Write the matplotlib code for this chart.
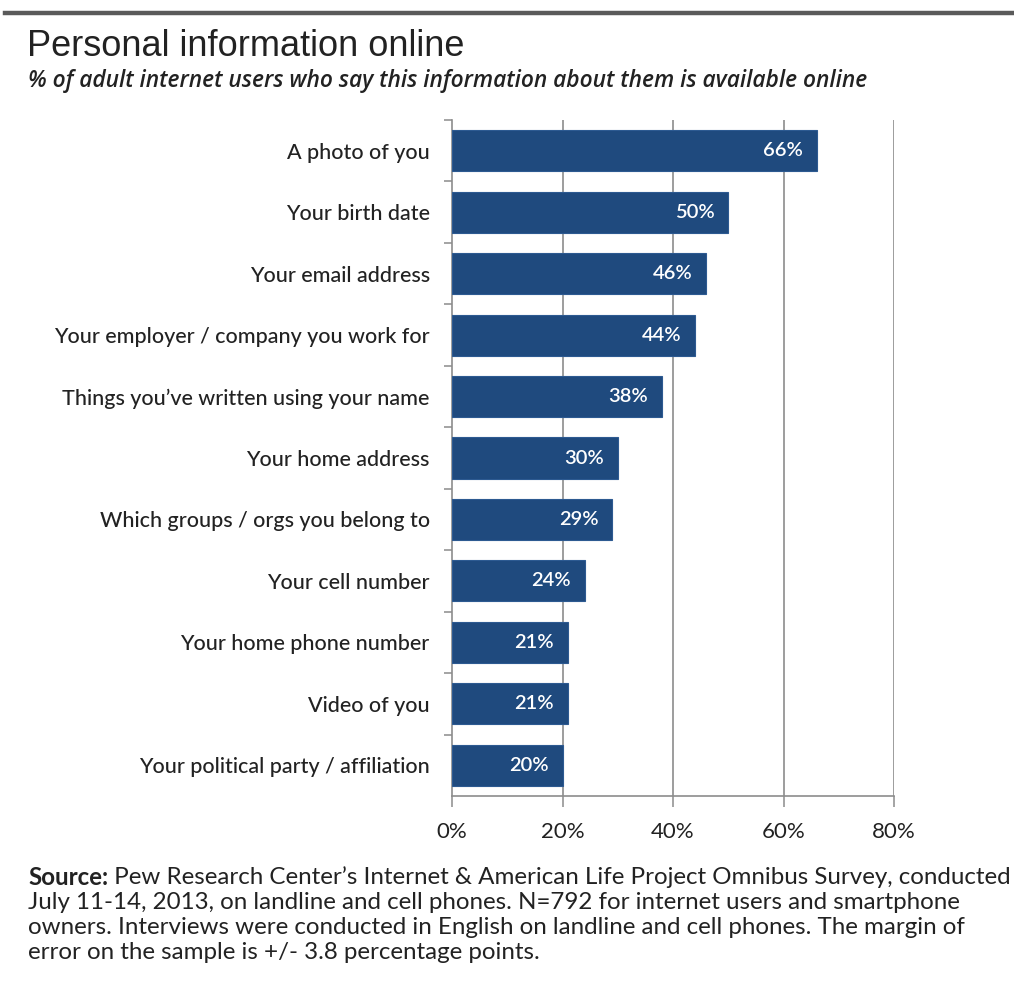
import matplotlib
matplotlib.use("Agg")
import matplotlib.pyplot as plt
from matplotlib.lines import Line2D

categories = [
    "A photo of you",
    "Your birth date",
    "Your email address",
    "Your employer / company you work for",
    "Things you\u2019ve written using your name",
    "Your home address",
    "Which groups / orgs you belong to",
    "Your cell number",
    "Your home phone number",
    "Video of you",
    "Your political party / affiliation",
]
values = [66, 50, 46, 44, 38, 30, 29, 24, 21, 21, 20]
xticks = [0, 20, 40, 60, 80]
xtick_labels = ["0%", "20%", "40%", "60%", "80%"]

title = "Personal information online"
subtitle = "% of adult internet users who say this information about them is available online"
source_bold = "Source:"
source_rest = (" Pew Research Center\u2019s Internet & American Life Project Omnibus Survey, conducted\n"
               "July 11-14, 2013, on landline and cell phones. N=792 for internet users and smartphone\n"
               "owners. Interviews were conducted in English on landline and cell phones. The margin of\n"
               "error on the sample is +/- 3.8 percentage points.")

W, H = 1014, 988
fig = plt.figure(figsize=(W / 100, H / 100), dpi=100)
fig.patch.set_facecolor("white")

def fx(px):
    return px / W

def fy(py):
    return 1 - py / H

# top rule
fig.add_artist(Line2D([fx(5), fx(1014)], [fy(13), fy(13)], color="#5a5a5a", lw=3.2,
                      transform=fig.transFigure))

fig.text(fx(27), fy(46), title, fontsize=26, family="Liberation Sans", color="#222222",
         va="center", ha="left")
fig.text(fx(28), fy(81), subtitle, fontsize=16.4, family="Open Sans", style="italic",
         fontweight="semibold", color="#222222", va="center", ha="left")

ax = fig.add_axes([fx(452), fy(796), fx(894) - fx(452), fy(120) - fy(796)])
y = list(range(len(categories)))
ax.barh(y, values, height=0.67, color="#1f4a7e", edgecolor="#2d5a91", linewidth=0.8, zorder=3)
ax.set_ylim(len(categories) - 0.5, -0.5)
ax.set_xlim(0, 80)

for yi, v in zip(y, values):
    ax.text(v - 2.5, yi, f"{v}%", color="white", fontsize=14.5, family="Lato",
            fontweight="semibold", ha="right", va="center", zorder=4)

# grid
for xt in xticks[1:]:
    ax.axvline(xt, color="#8c8c8c", lw=1.2, zorder=1)

ax.set_xticks(xticks)
ax.set_xticklabels(xtick_labels, fontsize=16, family="Lato", color="#222222")
ax.tick_params(axis="x", length=8, width=1.1, color="#8c8c8c", pad=11, direction="out")

# category labels
ax.set_yticks(y)
ax.set_yticklabels(categories, fontsize=15.5, family="Lato", fontweight="medium", color="#222222")
ax.tick_params(axis="y", which="major", length=0, pad=16)
ax.set_yticks([i - 0.5 for i in range(len(categories))], minor=True)
ax.tick_params(axis="y", which="minor", length=6, width=1.1, color="#8c8c8c")

for s in ["top", "right"]:
    ax.spines[s].set_visible(False)
for s in ["left", "bottom"]:
    ax.spines[s].set_color("#8c8c8c")
    ax.spines[s].set_linewidth(1.2)

# source
fs = 17.4
t = fig.text(fx(28), fy(877), source_bold, fontsize=fs, family="Lato", fontweight="bold",
             color="#222222", va="center", ha="left")
fig.canvas.draw()
bb = t.get_window_extent()
lines = source_rest.split("\n")
fig.text(bb.x1 / W, fy(877), lines[0], fontsize=fs, family="Lato", color="#222222",
         va="center", ha="left")
for i, ln in enumerate(lines[1:], start=1):
    fig.text(fx(28), fy(877 + 25.3 * i), ln, fontsize=fs, family="Lato", color="#222222",
             va="center", ha="left")

fig.savefig("out.png", dpi=100, facecolor="white")
